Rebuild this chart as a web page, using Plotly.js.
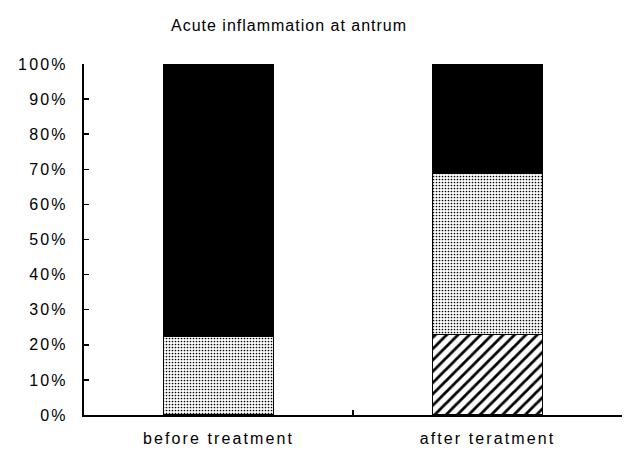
<!DOCTYPE html>
<html>
<head>
<meta charset="utf-8">
<script src="https://cdn.plot.ly/plotly-3.0.1.min.js"></script>
<style>
html,body{margin:0;padding:0;background:#fff;}
#chart{width:627px;height:450px;}
#chart .ytick text{letter-spacing:2.2px;}
#chart .xtick text{letter-spacing:2.1px;}
#chart .gtitle{letter-spacing:1px;}
</style>
</head>
<body>
<div id="chart"></div>
<script>
const categories = ["before treatment", "after teratment"];
const hatchedValues = [0, 0.23];
const dottedValues = [0.225, 0.46];
const blackValues = [0.775, 0.31];
const yTickVals = [0, 0.1, 0.2, 0.3, 0.4, 0.5, 0.6, 0.7, 0.8, 0.9, 1.0];
const yTickText = ["0%", "10%", "20%", "30%", "40%", "50%", "60%", "70%", "80%", "90%", "100%"];

const line = {color: "#000", width: 1.5};
const traces = [
  {type: "bar", x: categories, y: hatchedValues, width: 0.41,
   marker: {color: "#fff", line: line, pattern: {shape: "/", fgcolor: "#000", bgcolor: "#fff", size: 8, solidity: 0.35}}},
  {type: "bar", x: categories, y: dottedValues, width: 0.41,
   marker: {color: "#fff", line: line, pattern: {shape: ".", fgcolor: "#000", bgcolor: "#fff", size: 3, solidity: 0.25}}},
  {type: "bar", x: categories, y: blackValues, width: 0.41,
   marker: {color: "#000", line: line}}
];

const font = {family: "Liberation Sans, Arial, sans-serif", size: 16, color: "#000"};
const layout = {
  width: 627, height: 450,
  margin: {l: 84, r: 5, t: 64, b: 35},
  barmode: "stack",
  showlegend: false,
  paper_bgcolor: "#fff", plot_bgcolor: "#fff",
  font: font,
  title: {text: "Acute inflammation at antrum", x: 0.461, xanchor: "center", y: 0.944, yanchor: "middle",
          font: {family: "Liberation Sans, Arial, sans-serif", size: 16, color: "#000"}},
  xaxis: {type: "category", range: [-0.5, 1.5], showline: true, linecolor: "#000", linewidth: 2,
          ticks: "inside", tickson: "boundaries", ticklen: 5, tickcolor: "#000", tickwidth: 1.5,
          showgrid: false, zeroline: false, tickfont: font, ticklabelstandoff: 8},
  yaxis: {range: [0, 1], tickvals: yTickVals, ticktext: yTickText, showline: true, linecolor: "#000", linewidth: 2,
          ticks: "inside", ticklen: 5, tickcolor: "#000", tickwidth: 1.5,
          showgrid: false, zeroline: false, tickfont: font, ticklabelstandoff: 11}
};

Plotly.newPlot("chart", traces, layout, {displayModeBar: false, staticPlot: true});
</script>
</body>
</html>
